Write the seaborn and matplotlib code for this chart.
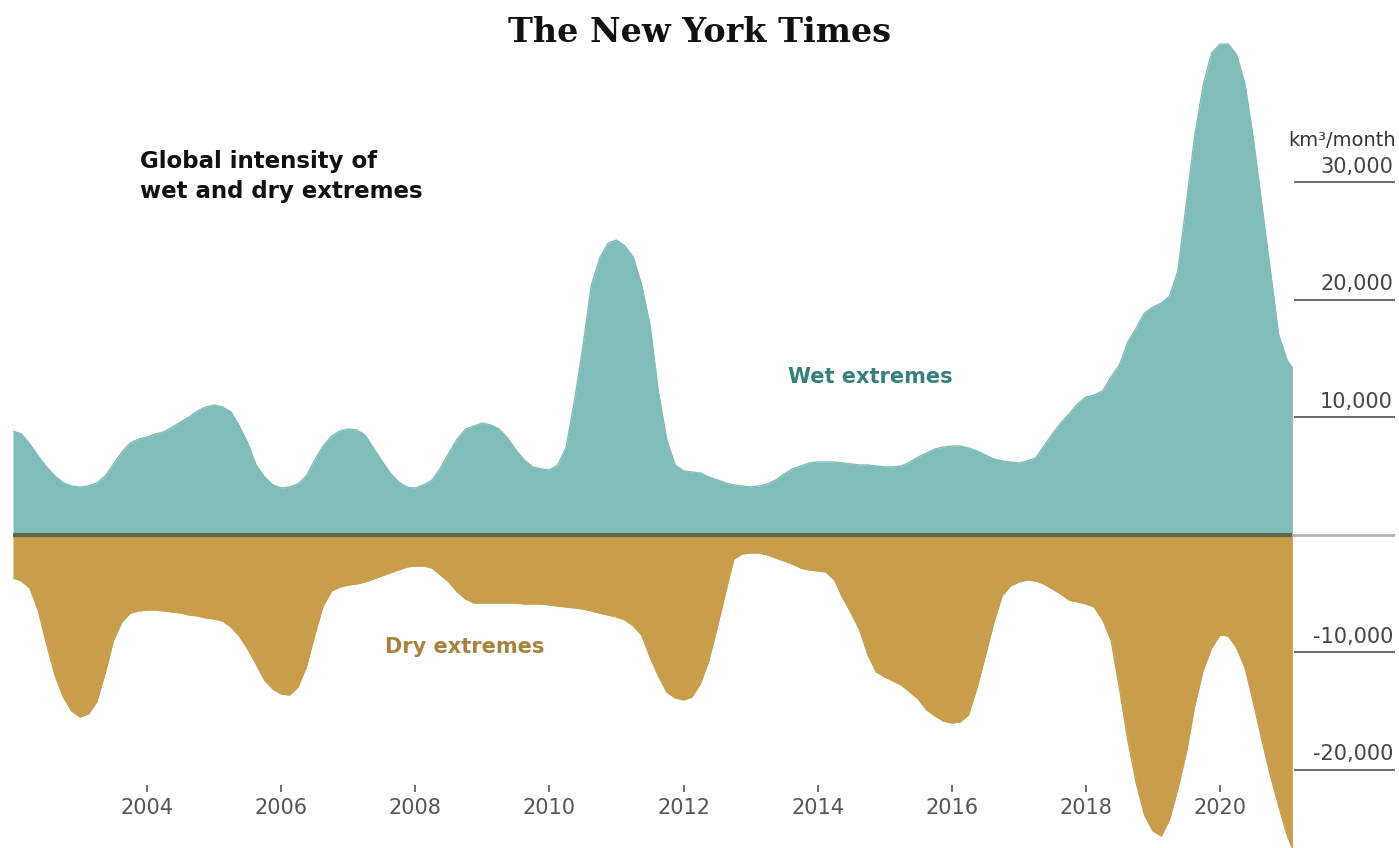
# Global intensity of wet and dry extremes (NYT style area chart)

import numpy as np
import pandas as pd
import matplotlib.pyplot as plt
import seaborn as sns

# sample positions: every 1/8 year, plus the last month shown
years = np.append(np.arange(2002.0, 2021.001, 0.125), 2021.08)

# km3/month
wet = [
    # 2002 - 2010
    8850, 8600, 7740, 6720, 5790, 5020, 4430, 4170,
    4080, 4170, 4430, 5020, 6040, 7060, 7830, 8170,
    8340, 8600, 8770, 9190, 9620, 10040, 10550, 10890,
    11060, 10890, 10470, 9280, 7830, 5960, 4940, 4260,
    4000, 4080, 4340, 5020, 6380, 7570, 8420, 8850,
    9020, 8940, 8510, 7400, 6300, 5280, 4510, 4080,
    4000, 4260, 4680, 5700, 6980, 8170, 9020, 9280,
    9530, 9360, 9020, 8250, 7230, 6380, 5790, 5620,
    5530,
    # 2010.125 - 2012.75
    5960, 7490, 11490, 16080, 21280, 23570, 24850, 25100, 24590, 23660, 21280,
    17870, 12170, 8080, 5960, 5450, 5360, 5280, 4940, 4680, 4430, 4260,
    # 2012.875 - 2018.25
    4170, 4080, 4170, 4340, 4680, 5190, 5620, 5870, 6130, 6210, 6210,
    6210, 6130, 6040, 5960, 5960, 5870, 5790, 5790, 5870, 6210, 6640,
    6980, 7320, 7490, 7570, 7570, 7400, 7150, 6810, 6470, 6300, 6210,
    6130, 6300, 6550, 7570, 8600, 9530, 10300, 11150, 11740, 11910, 12250,
    # 2018.375 - 2021.0
    13450, 14470, 16420, 17620, 18890, 19400, 19740, 20340, 22550, 28340,
    34040, 38300, 41020, 41780, 41780, 40850, 38300, 33610, 28080, 22550,
    17020, 14890,
    14210,
]

dry = [
    # 2002 - 2010
    -3660, -3910, -4510, -6380, -9280, -11910, -13790, -14980,
    -15490, -15230, -14210, -11740, -8940, -7400, -6640, -6470,
    -6380, -6380, -6470, -6550, -6640, -6810, -6890, -7060,
    -7150, -7320, -7830, -8600, -9700, -10980, -12340, -13110,
    -13530, -13620, -12940, -11230, -8510, -6040, -4770, -4430,
    -4260, -4170, -4000, -3740, -3490, -3230, -2980, -2720,
    -2640, -2640, -2810, -3400, -4000, -4850, -5450, -5790,
    -5790, -5790, -5790, -5790, -5790, -5870, -5870, -5870,
    -5960,
    # 2010.125 - 2012.75
    -6040, -6130, -6210, -6300, -6470, -6640, -6810, -6980, -7230, -7740,
    -8510, -10380, -12000, -13360, -13870, -14040, -13790, -12680, -10720,
    -7910, -4940, -2040,
    # 2012.875 - 2018.25
    -1620, -1530, -1530, -1700, -1960, -2210, -2470, -2810, -2980, -3060,
    -3150, -3830, -5360, -6640, -8080, -10210, -11660, -12080, -12420,
    -12770, -13360, -13960, -14890, -15400, -15830, -16000, -15910, -15320,
    -13020, -10300, -7490, -5190, -4340, -4000, -3830, -3910, -4170, -4600,
    -5020, -5530, -5700, -5870, -6130, -7230,
    # 2018.375 - 2021.0
    -8940, -13020, -17450, -21100, -23830, -25190, -25620, -24170, -21530,
    -18470, -14470, -11490, -9620, -8510, -8600, -9620, -11320, -14300,
    -17450, -20420, -23060, -25530,
    -26640,
]

x_ticks = [2004, 2006, 2008, 2010, 2012, 2014, 2016, 2018, 2020]
y_ticks = [30000, 20000, 10000, -10000, -20000]
y_tick_labels = ["30,000", "20,000", "10,000", "-10,000", "-20,000"]

WET = "#80bcba"
DRY = "#c89d4b"
ZERO = "#5d6a46"

sns.set_theme(style="white")
plt.rcParams['font.family'] = ['DejaVu Sans']

df = pd.DataFrame({"year": years, "wet": wet, "dry": dry})

fig = plt.figure(figsize=(13.99, 8.48), dpi=100)
ax = fig.add_axes([13 / 1399, 0, 1382 / 1399, 1])

ax.fill_between(df["year"], 0, df["wet"], color=WET, lw=0)
ax.fill_between(df["year"], 0, df["dry"], color=DRY, lw=0)
sns.lineplot(data=df, x="year", y="wet", ax=ax, color=WET, lw=1)
sns.lineplot(data=df, x="year", y="dry", ax=ax, color=DRY, lw=1)

x_end = df["year"].iloc[-1]
x_right = 2022.61
ax.set_xlim(2002.0, x_right)
ax.set_ylim(-26640, 45530)

# zero line: olive over the data, grey beyond
ax.plot([2002.0, x_end], [0, 0], color=ZERO, lw=3, solid_capstyle="butt")
ax.plot([x_end, x_right], [0, 0], color="#b0b0b0", lw=2, solid_capstyle="butt")

# right-hand value scale
for v, lab in zip(y_ticks, y_tick_labels):
    ax.plot([x_end + 0.02, x_right], [v, v], color="#6a6a6a", lw=1.4,
            solid_capstyle="butt")
    ax.annotate(lab, (x_right - 0.03, v), xytext=(0, 4),
                textcoords="offset points", ha="right", va="bottom",
                fontsize=15, color="#444444")
ax.text(x_right + 0.02, 33600, "km³/month", ha="right", va="center",
        fontsize=14, color="#333333")

ax.set_xticks([])
ax.set_yticks([])
ax.set_xlabel("")
ax.set_ylabel("")
sns.despine(ax=ax, left=True, bottom=True)

# year axis sits inside the plot area
sec = ax.secondary_xaxis((848 - 792) / 848)
sec.set_xticks(x_ticks)
sec.set_xticklabels([str(t) for t in x_ticks])
for s in sec.spines.values():
    s.set_visible(False)
sec.tick_params(direction="in", length=5, width=1.2, color="#555555",
                labelsize=15, labelcolor="#555555", pad=4)

# annotations
ax.text(2014.78, 13450, "Wet extremes", ha="center", va="center",
        fontsize=15, fontweight="bold", color="#35807d")
ax.text(2008.73, -9530, "Dry extremes", ha="center", va="center",
        fontsize=15, fontweight="bold", color="#a8833f")

fig.text(0.5, 1 - 32 / 848, "The New York Times", ha="center", va="center",
         fontsize=24, fontweight="bold", family="DejaVu Serif", color="#111111")
fig.text(140 / 1399, 1 - 150 / 848, "Global intensity of\nwet and dry extremes",
         ha="left", va="top", fontsize=16.5, fontweight="bold",
         linespacing=1.4, color="#111111")

fig.savefig("out.png", dpi=100, facecolor="white")
